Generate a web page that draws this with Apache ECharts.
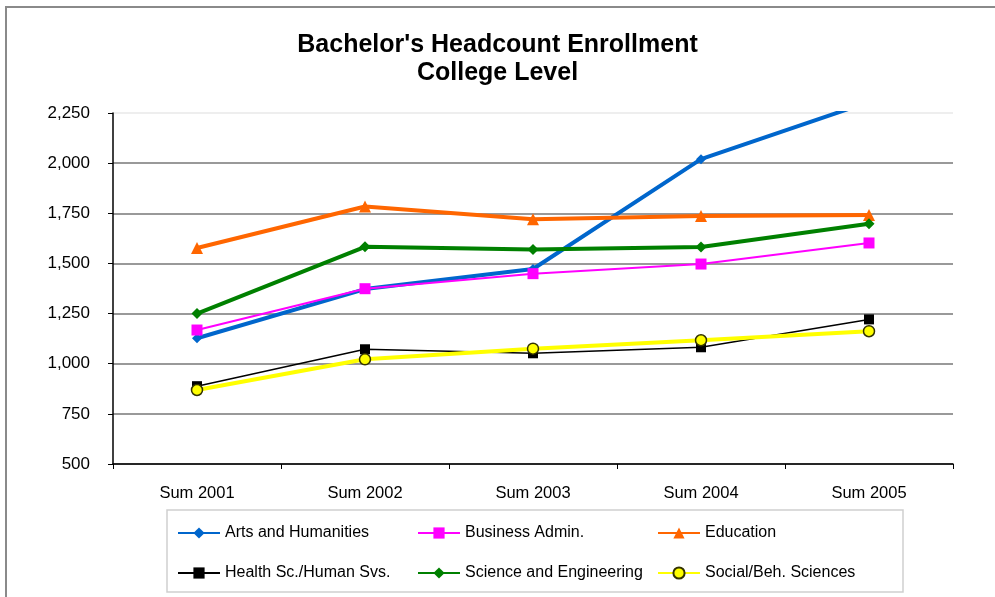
<!DOCTYPE html>
<html>
<head>
<meta charset="utf-8">
<script src="https://cdn.jsdelivr.net/npm/echarts@6/dist/echarts.min.js"></script>
<style>
  html, body { margin: 0; padding: 0; background: #fff; }
  #chart { width: 995px; height: 597px; }
</style>
</head>
<body>
<div id="chart"></div>
<script>
// categories and series values
const years = ['Sum 2001', 'Sum 2002', 'Sum 2003', 'Sum 2004', 'Sum 2005']
const arts = [1127, 1372, 1472, 2020, 2305]
const business = [1168, 1374, 1449, 1497, 1602]
const education = [1577, 1784, 1720, 1737, 1742]
const health = [888, 1072, 1052, 1082, 1221]
const science = [1250, 1583, 1570, 1582, 1698]
const social = [869, 1022, 1075, 1117, 1162]

const font = 'Liberation Sans, Arial, sans-serif'

const chart = echarts.init(document.getElementById('chart'))

// one line series, style bits passed in
const mkLine = (name, data, color, width, symbol, size, extra) => {
    return Object.assign({
        name: name,
        type: 'line',
        data: data,
        symbol: symbol,
        symbolSize: size,
        clip: true,
        lineStyle: { color: color, width: width },
        itemStyle: { color: color, borderWidth: 0 },
        emphasis: { disabled: true }
    }, extra || {})
}

// legend columns (3 columns, 2 rows)
const mkLegend = (left, names) => {
    return {
        left: left,
        top: 520,
        orient: 'vertical',
        itemWidth: 42,
        itemHeight: 14,
        itemGap: 24,
        data: names,
        textStyle: { fontFamily: font, fontSize: 16, color: '#000' }
    }
}

const option = {
    backgroundColor: '#fff',
    animation: false,
    title: {
        text: "Bachelor's Headcount Enrollment\nCollege Level",
        left: 'center',
        top: 26,
        textStyle: {
            fontFamily: font,
            fontSize: 25,
            fontWeight: 'bold',
            color: '#000',
            lineHeight: 28
        }
    },
    graphic: [
        // outer chart border (only top/left visible)
        { type: 'rect', shape: { x: 6, y: 7, width: 1000, height: 600 }, style: { fill: 'none', stroke: '#8a8a8a', lineWidth: 2 }, silent: true },
        // legend box
        { type: 'rect', shape: { x: 167, y: 510, width: 736, height: 82 }, style: { fill: 'none', stroke: '#cfcfcf', lineWidth: 1.5 }, silent: true }
    ],
    legend: [
        mkLegend(172, ['Arts and Humanities', 'Health Sc./Human Svs.']),
        mkLegend(412, ['Business Admin.', 'Science and Engineering']),
        mkLegend(652, ['Education', 'Social/Beh. Sciences'])
    ],
    grid: { left: 113, right: 42, top: 113, bottom: 133 },
    xAxis: {
        type: 'category',
        data: years,
        boundaryGap: true,
        axisLine: { lineStyle: { color: '#000', width: 1.5 } },
        axisTick: { show: true, length: 5, lineStyle: { color: '#000' } },
        axisLabel: { margin: 21, fontFamily: font, fontSize: 16.5, color: '#000' }
    },
    yAxis: {
        type: 'value',
        min: 500,
        max: 2250,
        interval: 250,
        axisLine: { show: true, lineStyle: { color: '#000', width: 1.5 } },
        axisTick: { show: true, length: 5, lineStyle: { color: '#000' } },
        axisLabel: {
            margin: 23,
            fontFamily: font,
            fontSize: 17,
            color: '#000',
            formatter: (v) => v.toLocaleString('en-US')
        },
        splitLine: {
            lineStyle: {
                color: ['#999', '#999', '#999', '#999', '#999', '#999', '#999', '#eeeeee'],
                width: 2
            }
        }
    },
    series: [
        mkLine('Arts and Humanities', arts, '#0066cc', 4, 'diamond', 10),
        mkLine('Business Admin.', business, '#ff00ff', 2, 'rect', 11),
        mkLine('Education', education, '#ff6600', 4, 'triangle', 12),
        mkLine('Health Sc./Human Svs.', health, '#000000', 1.5, 'rect', 10),
        mkLine('Science and Engineering', science, '#008000', 4, 'diamond', 11),
        mkLine('Social/Beh. Sciences', social, '#ffff00', 4, 'circle', 11, {
            itemStyle: { color: '#ffff00', borderColor: '#333300', borderWidth: 1.5 }
        })
    ]
}

chart.setOption(option)
</script>
</body>
</html>
